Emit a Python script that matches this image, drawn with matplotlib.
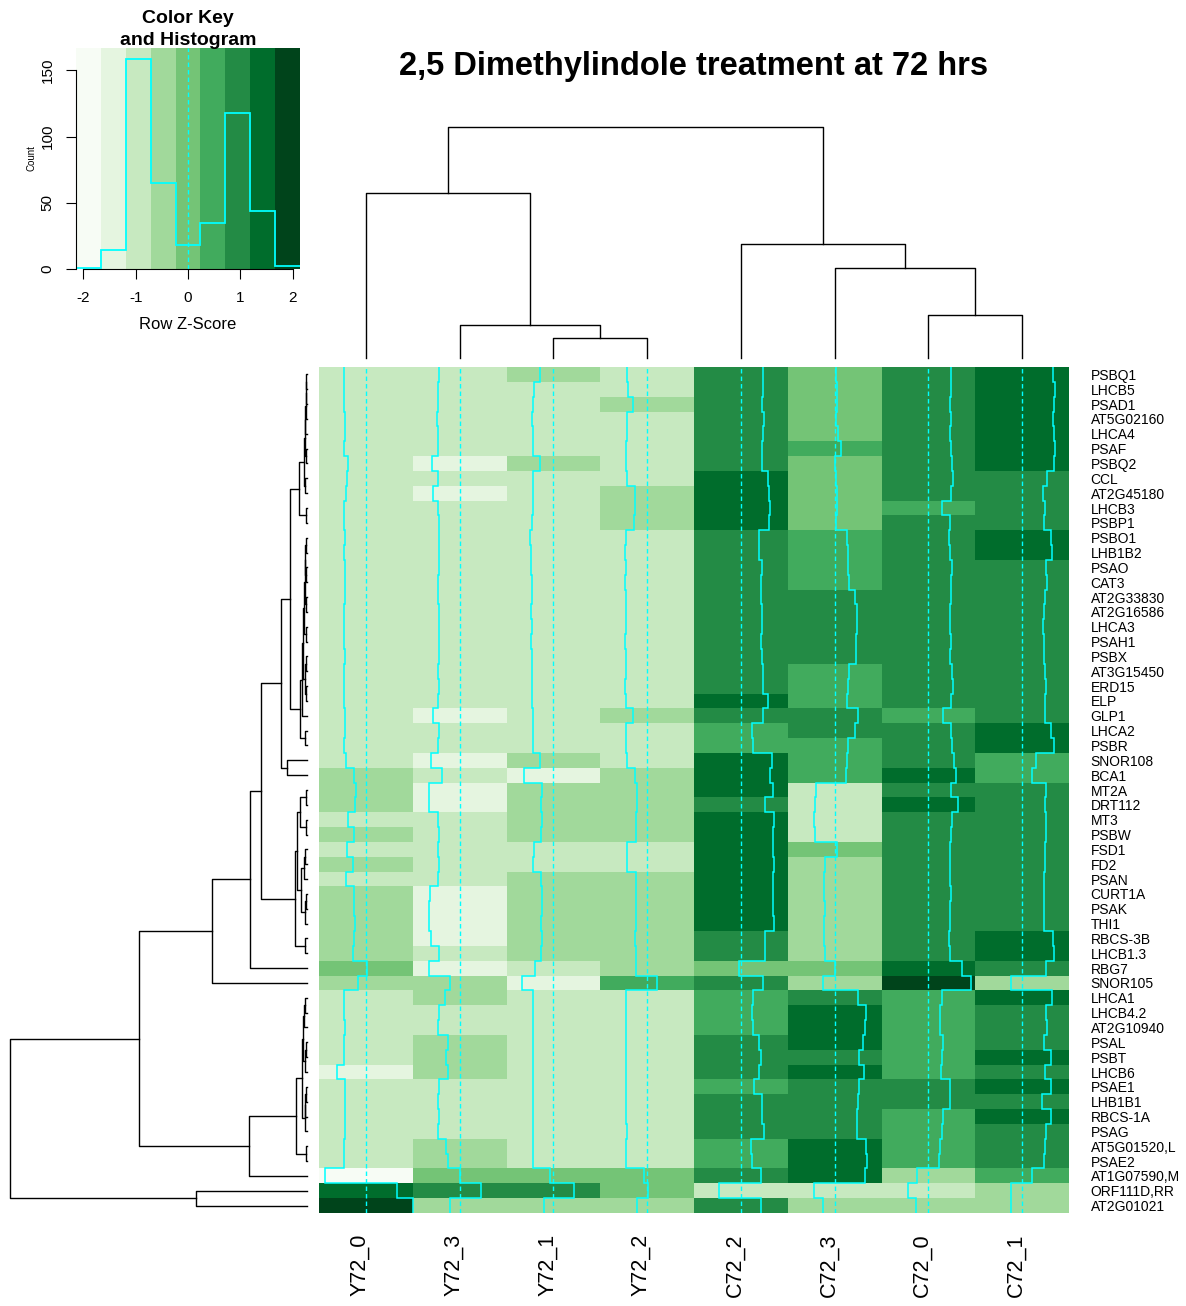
import numpy as np
import matplotlib

matplotlib.use("Agg")
import matplotlib.pyplot as plt
import matplotlib.transforms as mtransforms
from matplotlib.colors import BoundaryNorm, ListedColormap

plt.rcParams["font.family"] = ["Liberation Sans", "DejaVu Sans"]
plt.rcParams["axes.unicode_minus"] = False

# ---- data (row z-scores, rows in dendrogram order) ----
col_labels = ["Y72_0", "Y72_3", "Y72_1", "Y72_2", "C72_2", "C72_3", "C72_0", "C72_1"]

row_labels = [
    "PSBQ1", "LHCB5", "PSAD1", "AT5G02160", "LHCA4", "PSAF", "PSBQ2", "CCL",
    "AT2G45180", "LHCB3", "PSBP1", "PSBO1", "LHB1B2", "PSAO", "CAT3", "AT2G33830",
    "AT2G16586", "LHCA3", "PSAH1", "PSBX", "AT3G15450", "ERD15", "ELP", "GLP1",
    "LHCA2", "PSBR", "SNOR108", "BCA1", "MT2A", "DRT112", "MT3", "PSBW", "FSD1",
    "FD2", "PSAN", "CURT1A", "PSAK", "THI1", "RBCS-3B", "LHCB1.3", "RBG7",
    "SNOR105", "LHCA1", "LHCB4.2", "AT2G10940", "PSAL", "PSBT", "LHCB6", "PSAE1",
    "LHB1B1", "RBCS-1A", "PSAG", "AT5G01520,L", "PSAE2", "AT1G07590,M",
    "ORF111D,RR", "AT2G01021",
]

y72_0 = [
    -1.00, -0.98, -1.02, -0.95, -0.97, -1.00, -0.80, -0.85, -0.90, -1.02,
    -0.98, -0.96, -0.98, -0.97, -0.95, -0.96, -0.98, -0.99, -0.98, -0.97,
    -1.00, -0.98, -0.99, -0.95, -0.96, -0.98, -0.92, -0.55, -0.45, -0.50,
    -0.80, -0.55, -0.85, -0.60, -0.90, -0.55, -0.52, -0.50, -0.55, -0.60,
    0.05, -0.35, -1.00, -0.98, -0.95, -1.00, -0.98, -1.30, -0.96, -0.95,
    -0.97, -0.96, -1.00, -0.98, -1.85, 1.40, 2.14,
]
y72_3 = [
    -0.95, -0.97, -1.00, -1.02, -0.98, -0.98, -1.25, -0.98, -1.22, -1.00,
    -0.95, -0.92, -0.95, -0.94, -0.98, -0.97, -0.95, -0.96, -0.94, -0.95,
    -0.97, -0.96, -1.00, -1.22, -0.95, -0.97, -1.30, -0.82, -1.40, -1.38,
    -1.00, -0.95, -0.98, -0.95, -0.98, -1.35, -1.38, -1.40, -1.30, -0.95,
    -1.40, -0.45, -0.65, -0.95, -0.97, -0.55, -0.60, -0.55, -0.95, -0.97,
    -0.96, -0.98, -0.60, -0.55, 0.00, 0.98, -0.45,
]
y72_1 = [
    -0.62, -0.90, -0.95, -0.96, -0.92, -0.94, -0.60, -0.95, -0.92, -0.95,
    -0.98, -1.05, -1.00, -1.02, -0.99, -0.98, -1.00, -0.98, -1.00, -0.99,
    -0.98, -0.97, -0.96, -0.92, -0.94, -0.95, -0.60, -1.35, -0.50, -0.55,
    -0.52, -0.58, -0.88, -0.92, -0.55, -0.52, -0.50, -0.55, -0.50, -0.55,
    -0.85, -1.45, -0.95, -0.92, -0.94, -0.92, -0.94, -0.92, -0.92, -0.94,
    -0.93, -0.92, -0.92, -0.94, -0.15, 0.95, -0.42,
]
y72_2 = [
    -0.90, -0.88, -0.66, -0.90, -0.93, -0.95, -0.98, -0.92, -0.55, -0.55,
    -0.60, -0.98, -1.02, -0.98, -1.00, -0.97, -0.95, -0.98, -1.00, -0.98,
    -0.95, -1.00, -0.97, -0.66, -0.98, -0.96, -0.94, -0.55, -0.48, -0.45,
    -0.50, -0.52, -0.90, -0.90, -0.50, -0.50, -0.52, -0.50, -0.55, -0.52,
    -0.50, 0.45, -0.98, -0.95, -0.96, -0.96, -0.95, -0.96, -0.98, -0.96,
    -0.95, -0.94, -0.96, -0.97, -0.15, 0.05, -0.45,
]
c72_2 = [
    1.00, 1.02, 0.98, 1.05, 1.00, 0.95, 0.95, 1.25, 1.30, 1.35,
    1.28, 0.85, 0.82, 0.95, 0.92, 0.90, 0.95, 0.95, 0.94, 0.96,
    1.02, 1.00, 1.25, 1.00, 0.50, 0.55, 1.40, 1.35, 1.45, 1.10,
    1.50, 1.45, 1.45, 1.50, 1.45, 1.48, 1.45, 1.50, 1.10, 1.08,
    -0.10, 1.00, 0.55, 0.50, 0.55, 0.85, 0.90, 0.85, 0.60, 0.95,
    0.98, 1.05, 0.45, 0.50, 0.90, -1.00, 0.90,
]
c72_3 = [
    0.05, 0.10, 0.12, 0.08, 0.15, 0.30, 0.02, 0.05, 0.10, 0.12,
    0.08, 0.55, 0.60, 0.62, 0.65, 0.95, 1.00, 1.02, 0.98, 0.97,
    0.65, 0.60, 0.58, 1.05, 0.95, 0.62, 0.55, 0.50, -0.85, -0.90,
    -0.92, -0.90, 0.10, -0.45, -0.48, -0.50, -0.45, -0.50, -0.48, -0.42,
    0.00, -0.55, 1.05, 1.45, 1.40, 1.30, 1.10, 1.35, 1.10, 1.05,
    1.00, 1.00, 1.45, 1.50, 1.40, -0.95, -0.55,
]
c72_0 = [
    1.02, 1.05, 1.00, 1.02, 0.98, 1.05, 1.10, 1.12, 1.05, 0.62,
    1.00, 0.95, 0.98, 1.08, 1.05, 1.02, 0.98, 1.00, 1.02, 1.00,
    1.10, 1.12, 1.05, 0.65, 1.05, 1.10, 1.15, 1.25, 1.05, 1.35,
    1.10, 1.05, 1.00, 1.00, 1.00, 1.02, 1.00, 1.00, 0.95, 0.98,
    1.55, 1.95, 0.60, 0.55, 0.52, 0.65, 0.60, 0.58, 1.00, 1.00,
    0.65, 0.62, 0.55, 0.50, -0.50, -0.92, -0.55,
]
c72_1 = [
    1.40, 1.48, 1.44, 1.42, 1.45, 1.50, 1.45, 1.15, 0.95, 1.05,
    1.00, 1.30, 1.35, 1.10, 1.12, 1.05, 0.98, 0.96, 0.98, 1.00,
    1.05, 1.10, 1.03, 1.05, 1.30, 1.45, 0.65, 0.45, 1.10, 1.05,
    1.10, 1.08, 1.05, 1.05, 1.02, 1.00, 1.02, 1.00, 1.40, 1.45,
    1.10, -0.50, 1.35, 1.10, 1.15, 1.00, 1.30, 1.05, 1.30, 0.92,
    1.30, 1.10, 1.05, 1.00, 0.45, -0.50, -0.52,
]

# dendrograms: (left, right, height); leaves are display positions,
# merged nodes get ids n_leaves, n_leaves + 1, ...
col_merges = [
    (2, 3, 1.0), (1, 8, 1.65), (0, 9, 8.25),
    (6, 7, 2.15), (5, 11, 4.5), (4, 12, 5.7), (10, 13, 11.55),
]

row_merges = [
    (0, 1, 0.03), (57, 2, 0.04), (58, 3, 0.05), (59, 4, 0.06), (5, 6, 0.05),
    (60, 61, 0.08), (7, 8, 0.06), (62, 63, 0.11), (9, 10, 0.05), (64, 65, 0.27),
    (11, 12, 0.03), (13, 14, 0.04), (67, 68, 0.06), (15, 16, 0.03), (69, 70, 0.08),
    (17, 18, 0.04), (71, 72, 0.10), (19, 20, 0.03), (21, 22, 0.05), (74, 75, 0.07),
    (73, 76, 0.12), (77, 23, 0.16), (24, 25, 0.06), (78, 79, 0.23), (66, 80, 0.57),
    (26, 27, 0.67), (81, 82, 0.87), (28, 29, 0.05), (30, 31, 0.05), (84, 85, 0.23),
    (32, 33, 0.06), (87, 34, 0.10), (35, 36, 0.04), (89, 37, 0.07), (88, 90, 0.20),
    (86, 91, 0.33), (38, 39, 0.06), (92, 93, 0.40), (83, 94, 1.53), (95, 40, 1.90),
    (96, 41, 3.17), (42, 43, 0.06), (98, 44, 0.10), (45, 46, 0.05), (100, 47, 0.08),
    (99, 101, 0.13), (48, 49, 0.04), (103, 50, 0.06), (104, 51, 0.08), (102, 105, 0.18),
    (52, 53, 0.05), (106, 107, 0.38), (108, 54, 1.93), (97, 109, 5.60), (55, 56, 3.70),
    (110, 111, 9.90),
]

greens = ["#F7FCF5", "#E5F5E0", "#C7E9C0", "#A1D99B", "#74C476",
          "#41AB5D", "#238B45", "#006D2C", "#00441B"]
trace_color = "#00FFFF"


def draw_dendrogram(ax, merges, n_leaves, orientation):
    pos = {i: i + 0.5 for i in range(n_leaves)}
    height = {i: 0.0 for i in range(n_leaves)}
    for k, (a, b, h) in enumerate(merges):
        xs = [pos[a], pos[a], pos[b], pos[b]]
        hs = [height[a], h, h, height[b]]
        if orientation == "top":
            ax.plot(xs, hs, color="black", lw=1.0, clip_on=False)
        else:
            ax.plot(hs, xs, color="black", lw=1.0, clip_on=False)
        pos[n_leaves + k] = (pos[a] + pos[b]) / 2
        height[n_leaves + k] = h
    return height[n_leaves + len(merges) - 1]


W, H = 1186, 1306
fig = plt.figure(figsize=(W / 100, H / 100), dpi=100)


def px_axes(left, top, right, bottom):
    return fig.add_axes([left / W, 1 - bottom / H, (right - left) / W, (bottom - top) / H])


z = np.column_stack([y72_0, y72_3, y72_1, y72_2, c72_2, c72_3, c72_0, c72_1])
n_rows, n_cols = z.shape
zmax = np.abs(z).max()
breaks = np.linspace(-zmax, zmax, len(greens) + 1)
cmap = ListedColormap(greens)
norm = BoundaryNorm(breaks, cmap.N)

# ---- heatmap with column traces ----
ax = px_axes(319, 367, 1069, 1213)
ax.pcolormesh(np.arange(n_cols + 1), np.arange(n_rows + 1), z, cmap=cmap, norm=norm)
lo, hi = breaks[0], breaks[-1]
for j in range(n_cols):
    ax.axvline(j + (0 - lo) / (hi - lo), color=trace_color, lw=1.0, dashes=(3.2, 2.2))
    ax.stairs(j + (z[:, j] - lo) / (hi - lo), np.arange(n_rows + 1),
              orientation="horizontal", baseline=None, color=trace_color, lw=1.1)
ax.set_xlim(0, n_cols)
ax.set_ylim(n_rows, 0)
ax.yaxis.tick_right()
ax.set_yticks(np.arange(n_rows) + 0.5, row_labels, fontsize=10)
ax.set_xticks(np.arange(n_cols) + 0.5, col_labels, rotation=90, fontsize=15.5)
ax.tick_params(axis="y", length=0, pad=15.5)
ax.tick_params(axis="x", length=0, pad=15)
shift = mtransforms.ScaledTranslation(-0.06, 0, fig.dpi_scale_trans)
for label in ax.get_xticklabels():
    label.set_transform(label.get_transform() + shift)
for spine in ax.spines.values():
    spine.set_visible(False)

# ---- column dendrogram ----
cax = px_axes(319, 127, 1069, 358)
top = draw_dendrogram(cax, col_merges, n_cols, "top")
cax.set_xlim(0, n_cols)
cax.set_ylim(0, top)
cax.axis("off")

# ---- row dendrogram ----
rax = px_axes(10, 367, 307, 1213)
root = draw_dendrogram(rax, row_merges, n_rows, "left")
rax.set_xlim(root, 0)
rax.set_ylim(n_rows, 0)
rax.axis("off")

# ---- colour key with histogram ----
kax = px_axes(76, 48, 300, 269)
counts, _ = np.histogram(z.ravel(), bins=breaks)
for k in range(len(greens)):
    kax.axvspan(breaks[k], breaks[k + 1], color=greens[k], lw=0)
kax.stairs(counts, breaks, baseline=None, color=trace_color, lw=1.3)
kax.axvline(0, color=trace_color, lw=1.0, dashes=(3.2, 2.2))
kax.set_xlim(lo, hi)
kax.set_ylim(0, counts.max() * 1.05)
kax.set_xticks([-2, -1, 0, 1, 2])
kax.set_yticks([0, 50, 100, 150])
kax.spines["top"].set_visible(False)
kax.spines["right"].set_visible(False)
kax.spines["left"].set_bounds(0, 150)
kax.spines["bottom"].set_bounds(-2, 2)
kax.tick_params(direction="out", length=7.5, labelsize=11, pad=8)
for label in kax.get_yticklabels():
    label.set_rotation(90)
    label.set_va("center")
kax.set_xlabel("Row Z-Score", fontsize=12, labelpad=9)
kax.set_ylabel("Count", fontsize=7, labelpad=3)

fig.text(188 / W, 1 - 29.5 / H, "Color Key\nand Histogram", ha="center", va="center",
         fontsize=14, fontweight="bold", linespacing=1.35)
fig.text(694 / W, 1 - 66 / H, "2,5 Dimethylindole treatment at 72 hrs",
         ha="center", va="center", fontsize=23.5, fontweight="bold")

fig.savefig("out.png", dpi=100)
